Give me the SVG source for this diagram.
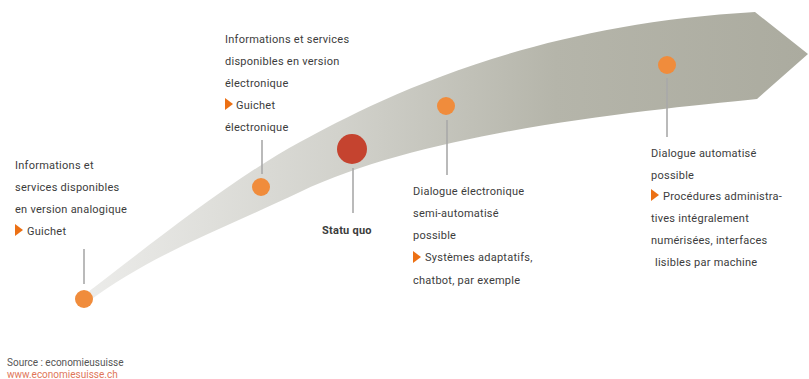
<svg xmlns="http://www.w3.org/2000/svg" width="809" height="379" viewBox="0 0 809 379">
<defs>
<linearGradient id="band" gradientUnits="userSpaceOnUse" x1="84" y1="0" x2="809" y2="0">
<stop offset="0" stop-color="#ececea"/>
<stop offset="0.35" stop-color="#d2d2cc"/>
<stop offset="0.65" stop-color="#b5b5aa"/>
<stop offset="1" stop-color="#abab9f"/>
</linearGradient>
<style>
.t{font-family:Roboto,"Liberation Sans",sans-serif;font-size:11px;fill:#3c3c3c;letter-spacing:0.25px}
.b{font-weight:bold}
.dot{fill:#f08c3c}
.stem{stroke:#a9a9a9;stroke-width:1.6;fill:none}
.tri{fill:#ec7014}
.src{font-family:Roboto,"Liberation Sans",sans-serif;font-size:10px;fill:#555}
</style>
</defs>
<path id="band-shape" d="M84,295 C150,245 230,180 300,142 S520,25 755,12 L808,54 L757,99 C650,110 430,130 300,192 C220,230 150,255 88,302 Z" fill="url(#band)"/>
<g id="connectors">
<line class="stem" x1="84" y1="249" x2="84" y2="284"/>
<line class="stem" x1="262" y1="140" x2="262" y2="174"/>
<line class="stem" x1="353" y1="168" x2="353" y2="213"/>
<line class="stem" x1="447" y1="120" x2="447" y2="175"/>
<line class="stem" x1="667" y1="78" x2="667" y2="137"/>
</g>
<g id="node1">
<circle class="dot" cx="84" cy="299" r="9"/>
<text class="t" x="15" y="169">Informations et</text>
<text class="t" x="15" y="191">services disponibles</text>
<text class="t" x="15" y="213">en version analogique</text>
<path class="tri" d="M15,224 L23,230 L15,236 Z"/>
<text class="t" x="27" y="235">Guichet</text>
</g>
<g id="node2">
<circle class="dot" cx="261" cy="187" r="9"/>
<text class="t" x="225" y="43">Informations et services</text>
<text class="t" x="225" y="65">disponibles en version</text>
<text class="t" x="225" y="87">électronique</text>
<path class="tri" d="M225,98 L233,104 L225,110 Z"/>
<text class="t" x="236" y="109">Guichet</text>
<text class="t" x="225" y="131">électronique</text>
</g>
<g id="node-statu-quo">
<circle cx="352" cy="149" r="15" fill="#c5432f"/>
<text class="t b" x="322" y="234">Statu quo</text>
</g>
<g id="node3">
<circle class="dot" cx="446" cy="106" r="9"/>
<text class="t" x="413" y="195">Dialogue électronique</text>
<text class="t" x="413" y="217">semi-automatisé</text>
<text class="t" x="413" y="239">possible</text>
<path class="tri" d="M413,251 L421,257 L413,263 Z"/>
<text class="t" x="425" y="261">Systèmes adaptatifs,</text>
<text class="t" x="413" y="284">chatbot, par exemple</text>
</g>
<g id="node4">
<circle class="dot" cx="667" cy="65" r="9"/>
<text class="t" x="651" y="157">Dialogue automatisé</text>
<text class="t" x="651" y="179">possible</text>
<path class="tri" d="M651,189 L659,195 L651,201 Z"/>
<text class="t" x="663" y="200">Procédures administra-</text>
<text class="t" x="651" y="222">tives intégralement</text>
<text class="t" x="651" y="244">numérisées, interfaces</text>
<text class="t" x="655" y="266">lisibles par machine</text>
</g>
<g id="source">
<text class="src" x="7" y="366">Source : economieusuisse</text>
<text class="src" x="7" y="378" style="fill:#e0765a">www.economiesuisse.ch</text>
</g>
</svg>
